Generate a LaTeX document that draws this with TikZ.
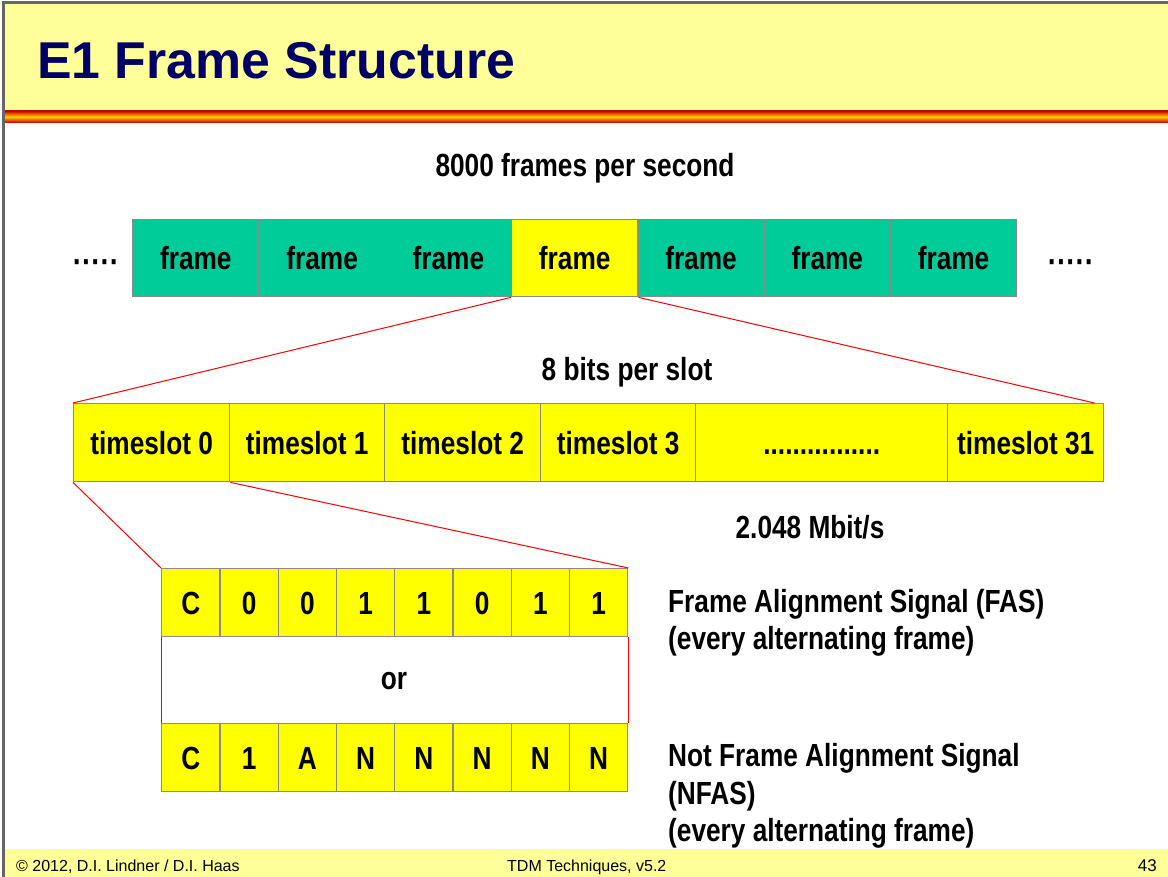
\documentclass[tikz,border=0pt]{standalone}
\usepackage{fontspec}
\setmainfont{Liberation Sans}
\newfontfamily\nb{Liberation Sans Bold}[FakeStretch=0.82]
\usetikzlibrary{calc}
\definecolor{hdr}{HTML}{FFFF99}
\definecolor{tealc}{HTML}{00CC99}
\definecolor{yel}{HTML}{FFFF00}
\definecolor{navy}{HTML}{000066}
\definecolor{bord}{HTML}{8A8A8A}
\definecolor{frm}{HTML}{666666}
\definecolor{stripered}{HTML}{CC0000}
\definecolor{stripeyel}{HTML}{FFD000}
\begin{document}
\begin{tikzpicture}[x=1pt,y=-1pt,
  cell/.style={draw=bord, line width=1.4pt, anchor=north west, inner sep=0pt,
    text height=23pt, text depth=0pt,
    font=\nb\fontsize{32}{37}\selectfont},
  fcell/.style={cell, minimum width=126.29pt, minimum height=77pt},
  tcell/.style={cell, fill=yel, minimum height=78pt},
  bcell/.style={cell, fill=yel, minimum width=58.25pt, minimum height=68pt},
  lbl/.style={inner sep=0pt, font=\nb\fontsize{32}{37.5}\selectfont},
  dots/.style={inner sep=0pt, font=\nb\fontsize{34}{36}\selectfont},
  foot/.style={inner sep=0pt, font=\fontsize{16}{19}\selectfont},
  redl/.style={draw=red, line width=1pt}
]
\useasboundingbox (0,0) rectangle (1168,877);
\fill[white] (0,0) rectangle (1168,877);
% header
\fill[hdr] (4,4) rectangle (1168,111);
\shade[top color=stripered, bottom color=stripered, middle color=stripeyel] (4,111) rectangle (1168,122.5);
\fill[frm] (1.5,1.5) rectangle (1168,4.5);
\fill[frm] (1.5,1.5) rectangle (4.5,877);
\node[anchor=base west, inner sep=0pt, text=navy, font=\bfseries\fontsize{51.8}{60}\selectfont] (title) at (37,79) {E1 Frame Structure};
% footer
\fill[hdr] (4.5,849) rectangle (1168,877);
\node[foot, anchor=base west] (copy) at (16,871) {© 2012, D.I. Lindner / D.I. Haas};
\node[foot, anchor=base west] (course) at (507,871) {TDM Techniques, v5.2};
\node[foot, anchor=base east, font=\fontsize{17}{19}\selectfont] (page) at (1157,871) {43};
% frames
\node[lbl] (fps) at (585,168) {8000 frames per second};
\foreach \i in {1,...,7}{
  \pgfmathsetmacro{\xx}{132+(\i-1)*126.29}
  \ifnum\i=4
    \node[fcell, fill=yel] (f\i) at (\xx,219) {frame};
  \else
    \node[fcell, fill=tealc] (f\i) at (\xx,219) {frame};
  \fi
}
\node[dots] (dl) at (96,267) {·····};
\node[dots] (dr) at (1071,267) {·····};
% timeslots
\node[lbl] (bps) at (627,372) {8 bits per slot};
\node[tcell, minimum width=156pt] (ts0) at (73,403) {timeslot 0};
\node[tcell, minimum width=155pt] (ts1) at (229,403) {timeslot 1};
\node[tcell, minimum width=156pt] (ts2) at (384,403) {timeslot 2};
\node[tcell, minimum width=155pt] (ts3) at (540,403) {timeslot 3};
\node[tcell, minimum width=252pt] (tsd) at (695,403) {................};
\node[tcell, minimum width=156pt] (ts31) at (947,403) {timeslot 31};
\node[lbl] (rate) at (810,527) {2.048 Mbit/s};
% bits
\foreach \t [count=\i] in {C,0,0,1,1,0,1,1}{
  \node[bcell] (b\i) at ({161+(\i-1)*58.25},568) {\t};
}
\foreach \t [count=\i] in {C,1,A,N,N,N,N,N}{
  \node[bcell] (c\i) at ({161+(\i-1)*58.25},723) {\t};
}
\node[lbl] (or) at (394,681) {or};
\node[lbl, anchor=west, align=left] (fas) at (668,623) {Frame Alignment Signal (FAS)\\(every alternating frame)};
\node[lbl, anchor=west, align=left] (nfas) at (668,796) {Not Frame Alignment Signal\\(NFAS)\\(every alternating frame)};
% zoom lines
\draw[redl] (f4.south west) -- (ts0.north west);
\draw[redl] (f4.south east) -- ($(ts31.north east)+(-10,0)$);
\draw[redl] (ts0.south west) -- (b1.north west);
\draw[redl] (ts0.south east) -- (b8.north east);
\draw[redl] (b1.south west) -- (c1.north west);
\draw[redl] (b8.south east) -- (c8.north east);
\end{tikzpicture}
\end{document}
